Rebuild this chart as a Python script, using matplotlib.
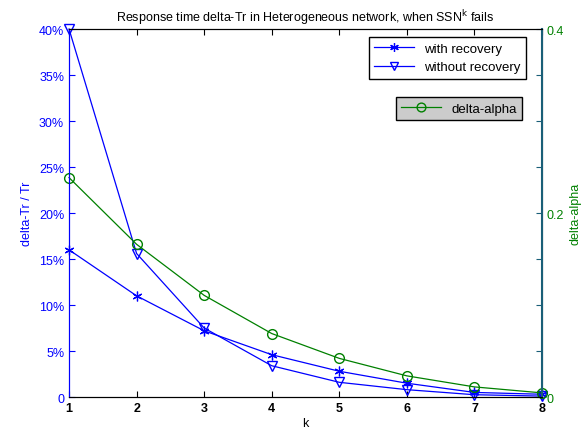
import matplotlib
matplotlib.use('Agg')
import matplotlib.pyplot as plt
from matplotlib.ticker import FuncFormatter

plt.rcParams['font.family'] = 'Liberation Sans'
plt.rcParams['font.size'] = 8

# data
k = [1, 2, 3, 4, 5, 6, 7, 8]
with_recovery = [0.160, 0.110, 0.072, 0.046, 0.028, 0.015, 0.005, 0.003]
without_recovery = [0.400, 0.156, 0.075, 0.034, 0.016, 0.008, 0.0025, 0.001]
delta_alpha = [0.2385, 0.166, 0.1105, 0.069, 0.042, 0.023, 0.011, 0.0045]

blue = '#0000ff'
green = '#008000'
teal = '#1a5f78'

fig = plt.figure(figsize=(5.82, 4.35), dpi=100)
ax = fig.add_axes([0.1186, 0.085, 0.8127, 0.846])
ax2 = ax.twinx()

l1, = ax.plot(k, with_recovery, color=blue, marker=(6, 2, 0), markersize=7, lw=0.9,
              markeredgewidth=0.9, label='with recovery', clip_on=False)
l2, = ax.plot(k, without_recovery, color=blue, marker='v', markersize=6.5,
              markerfacecolor='none', lw=0.9, label='without recovery', clip_on=False)
l3, = ax2.plot(k, delta_alpha, color=green, marker='o', markersize=7,
               markerfacecolor='none', lw=0.9, label='delta-alpha', clip_on=False)

ax.set_xlim(1, 8)
ax.set_ylim(0, 0.4)
ax2.set_ylim(0, 0.4)
ax.set_xticks(k)
ax.set_yticks([i * 0.05 for i in range(9)])
ax.yaxis.set_major_formatter(FuncFormatter(lambda v, p: '0' if v == 0 else f'{v*100:.0f}%'))
r_ticks = [i * 0.05 for i in range(9)]
ax2.set_yticks(r_ticks)
ax2.set_yticklabels(['0' if i == 0 else ('0.2' if i == 4 else ('0.4' if i == 8 else '')) for i in range(9)])

ax.tick_params(axis='x', direction='in', top=True, labelsize=9, length=4)
ax.tick_params(axis='y', direction='in', colors=blue, labelsize=9, length=4)
ax2.tick_params(axis='y', direction='in', colors=teal, labelcolor=green, labelsize=9, length=4)
for lab in ax.get_xticklabels():
    lab.set_fontweight('bold')

ax.spines['left'].set_color(blue)
ax2.spines['left'].set_color(blue)
ax2.spines['right'].set_color(teal)
ax2.spines['right'].set_linewidth(1.5)

ax.set_xlabel('k', fontsize=9, labelpad=2)
ax.set_ylabel('delta-Tr / Tr', color=blue, fontsize=9)
ax2.set_ylabel('delta-alpha', color=green, fontsize=9)
ax.set_title('Response time delta-Tr in Heterogeneous network, when SSN$^{\\mathrm{k}}$ fails',
             fontsize=9, pad=6)

leg1 = ax2.legend(handles=[l1, l2], loc='upper right', bbox_to_anchor=(0.966, 0.978),
                  fancybox=False, edgecolor='black', fontsize=9.5, borderaxespad=0,
                  handlelength=3, framealpha=1, markerscale=0.9)
leg1.get_frame().set_linewidth(1)
ax2.add_artist(leg1)
leg2 = ax2.legend(handles=[l3], loc='upper right', bbox_to_anchor=(0.958, 0.815),
                  fancybox=False, edgecolor='black', facecolor='#cccccc', fontsize=9.5,
                  borderaxespad=0, handlelength=3, framealpha=1, markerscale=0.9)
leg2.get_frame().set_linewidth(1)

plt.savefig('out.png', dpi=100)
